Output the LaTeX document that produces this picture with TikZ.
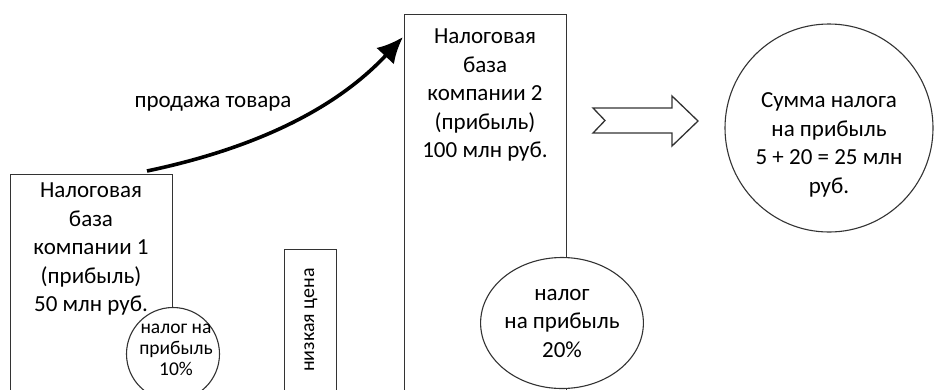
\documentclass[tikz,border=0pt]{standalone}
\usepackage{fontspec}
\setmainfont{Carlito}
\usetikzlibrary{arrows.meta, shapes.geometric, positioning}

\begin{document}
\begin{tikzpicture}[x = 1pt, y = -1pt,
		frame/.style = {draw = black!80, line width = 1.1pt, fill = white},
		bigtext/.style = {font = \fontsize{23}{28.5}\selectfont, align = center, inner sep = 0pt},
		smalltext/.style = {font = \fontsize{19.5}{21}\selectfont, align = center, inner sep = 0pt}]
	\useasboundingbox (0,0) rectangle (936,389);
	\begin{scope}
		\clip (0,0) rectangle (936,389);

		\node [frame, anchor = north west, minimum width = 162, minimum height = 260] (base1) at (10,174) {};
		\node [frame, anchor = north west, minimum width = 52, minimum height = 180] (lowprice) at (284,249) {};
		\node [frame, anchor = north west, minimum width = 162, minimum height = 400] (base2) at (404,14) {};

		\node [frame, circle, minimum size = 93] (tax1) at (173,354) {};
		\node [frame, ellipse, minimum width = 150, minimum height = 131, bigtext] (tax2) at (562,323) {налог\\на прибыль\\20\%};
		\node [frame, circle, minimum size = 208] (total) at (829,128) {};
	\end{scope}
	\begin{scope}
		\node [bigtext] (base1 text) at (91,249) {Налоговая\\база\\компании 1\\(прибыль)\\50 млн руб.};
		\node [smalltext] (tax1 text) at (176,350) {налог на\\прибыль\\10\%};
		\node [bigtext] (base2 text) at (485,95) {Налоговая\\база\\компании 2\\(прибыль)\\100 млн руб.};
		\node [bigtext, rotate = 90, font = \fontsize{20}{24}\selectfont] (lowprice text) at (311,320) {низкая цена};
		\node [bigtext] (total text) at (829,145) {Сумма налога\\на прибыль\\5 + 20 = 25 млн\\руб.};
		\node [bigtext] (sale) at (213,104) {продажа товара};
	\end{scope}
	\begin{scope}
		\coordinate (sale start) at (147,171);
		\coordinate (sale end) at (403,37);
		\draw [line width = 3.6pt, -{Latex[length = 26pt, width = 24pt]}] (sale start) .. controls (247,150) and (332,113) .. (sale end);

		\draw [draw = black!80, line width = 1.3pt] (593,108) -- (672,108) -- (672,96) -- (698,121) -- (672,146) -- (672,133) -- (593,133) -- (605,120.5) -- cycle;
	\end{scope}
\end{tikzpicture}
\end{document}
